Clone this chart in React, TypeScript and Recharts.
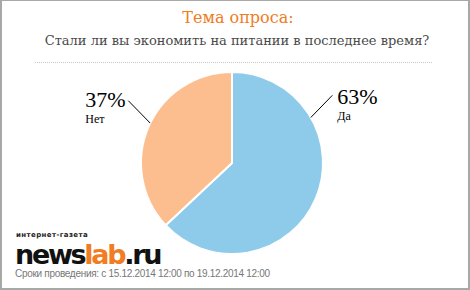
import { PieChart, Pie, Cell } from "recharts";

const answers = ["Да", "Нет"];
const shares = [63, 37];
const colors = ["#8ecbea", "#fdbe8f"];
// where each label's leader line leaves the pie (degrees, 0 = right, counter-clockwise)
const labelAngles = [30, 154];

const data = answers.map((name, i) => ({ name, value: shares[i] }));

const RADIAN = Math.PI / 180;

function renderLabel(props: any) {
  const { cx, cy, outerRadius, index } = props;
  const a = labelAngles[index] * RADIAN;
  const right = Math.cos(a) >= 0;
  const b = (labelAngles[index] + (right ? 4 : -5)) * RADIAN;
  const sx = cx + outerRadius * Math.cos(a);
  const sy = cy - outerRadius * Math.sin(a);
  const ex = cx + (outerRadius + 30) * Math.cos(b);
  const ey = cy - (outerRadius + 30) * Math.sin(b);
  const tx = right ? ex + 5 : ex - 43;
  const ty = right ? ey + 9 : ey + 6;
  return (
    <g>
      <path d={`M${sx},${sy}L${ex},${ey}`} stroke="#000" strokeWidth={1} fill="none" />
      <text x={tx} y={ty} style={{ fontFamily: "'Liberation Serif', serif", fontSize: 22 }} fill="#000">
        {shares[index]}%
      </text>
      <text x={tx} y={ty + 16} style={{ fontFamily: "'Liberation Serif', serif", fontSize: 12 }} fill="#000">
        {answers[index]}
      </text>
    </g>
  );
}

export default function App() {
  return (
    <div
      style={{
        position: "absolute",
        left: 0,
        top: 0,
        width: 470,
        height: 290,
        boxSizing: "border-box",
        borderTop: "1px solid #a8a8a8",
        borderLeft: "2px solid #a8a8a8",
        borderRight: "2px solid #a8a8a8",
        borderBottom: "2px solid #a8a8a8",
        background: "#fff",
        overflow: "hidden",
      }}
    >
      <div
        style={{
          position: "absolute",
          top: 7,
          width: "100%",
          textAlign: "center",
          fontFamily: "'DejaVu Serif', serif",
          fontSize: 16,
          color: "#f07c23",
          left: 3,
        }}
      >
        Тема опроса:
      </div>
      <div
        style={{
          position: "absolute",
          top: 32,
          width: "100%",
          textAlign: "center",
          fontFamily: "'DejaVu Serif', serif",
          fontSize: 13,
          color: "#4a4a4a",
          left: 2,
        }}
      >
        Стали ли вы экономить на питании в последнее время?
      </div>
      <div
        style={{
          position: "absolute",
          top: 61,
          left: 33,
          width: 397,
          borderTop: "1px dotted #c8c8c8",
        }}
      />
      <div style={{ position: "absolute", left: 0, top: 0 }}>
        <PieChart width={466} height={287} margin={{ top: 0, right: 0, bottom: 0, left: 0 }}>
          <Pie
            data={data}
            dataKey="value"
            nameKey="name"
            cx={230}
            cy={162}
            outerRadius={91}
            startAngle={90}
            endAngle={-270}
            stroke="#fff"
            strokeWidth={2}
            label={renderLabel}
            labelLine={false}
            isAnimationActive={false}
          >
            {data.map((d, i) => (
              <Cell key={d.name} fill={colors[i]} />
            ))}
          </Pie>
        </PieChart>
      </div>
      <div
        style={{
          position: "absolute",
          left: 14,
          top: 231,
          fontFamily: "'DejaVu Sans', sans-serif",
          fontSize: 7,
          fontWeight: "bold",
          color: "#222",
          letterSpacing: 0.4,
          lineHeight: "7px",
        }}
      >
        интернет-газета
      </div>
      <div
        style={{
          position: "absolute",
          left: 13,
          top: 244,
          fontFamily: "'DejaVu Sans', sans-serif",
          fontSize: 27,
          fontWeight: "bold",
          letterSpacing: -2.3,
          color: "#111",
          lineHeight: "20px",
        }}
      >
        news<span style={{ color: "#f07c23" }}>lab</span>.ru
      </div>
      <div
        style={{
          position: "absolute",
          left: 13,
          top: 267,
          fontFamily: "'Liberation Sans', Arial, sans-serif",
          fontSize: 10,
          letterSpacing: -0.3,
          color: "#777",
        }}
      >
        Сроки проведения: с 15.12.2014 12:00 по 19.12.2014 12:00
      </div>
    </div>
  );
}
